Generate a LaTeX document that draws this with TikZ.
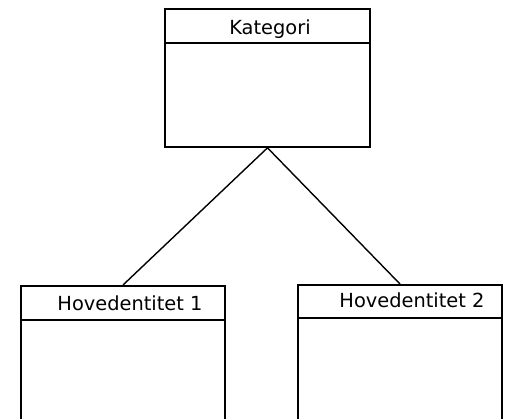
\documentclass[tikz,border=0pt]{standalone}
\usepackage{fontspec}
\setmainfont{DejaVu Sans}
\usetikzlibrary{positioning}

\begin{document}
\begin{tikzpicture}[line width=0.042cm,
		entity/.style={draw, minimum width=5.1cm, inner sep=0pt},
		title/.style={anchor=base, font=\fontsize{13.8}{16}\selectfont}]
		\useasboundingbox (0,0) rectangle (12.75,-10.475);
		\clip (0,0) rectangle (12.75,-10.475);
		
		\node[entity, minimum width=5.125cm, minimum height=3.45cm] (kategori) at (6.6875,-1.95) {};
		\node[entity, minimum height=4cm, anchor=north] (hoved1) at (3.075,-7.125) {};
		\node[entity, minimum height=4cm, anchor=north] (hoved2) at (10,-7.1) {};
		
		% header lines
		\draw (kategori.west |- 0,-1.075) -- (kategori.east |- 0,-1.075);
		\draw (hoved1.west |- 0,-8) -- (hoved1.east |- 0,-8);
		\draw (hoved2.west |- 0,-7.95) -- (hoved2.east |- 0,-7.95);
		
		\node[title] (kattitle) at (6.75,-0.85) {Kategori};
		\node[title] (h1title) at (3.25,-7.75) {Hovedentitet 1};
		\node[title] (h2title) at (10.3,-7.675) {Hovedentitet 2};
		
		\draw[line width=0.035cm] (kategori.south) -- (hoved1.north);
		\draw[line width=0.035cm] (kategori.south) -- (hoved2.north);
	\end{tikzpicture}
\end{document}
